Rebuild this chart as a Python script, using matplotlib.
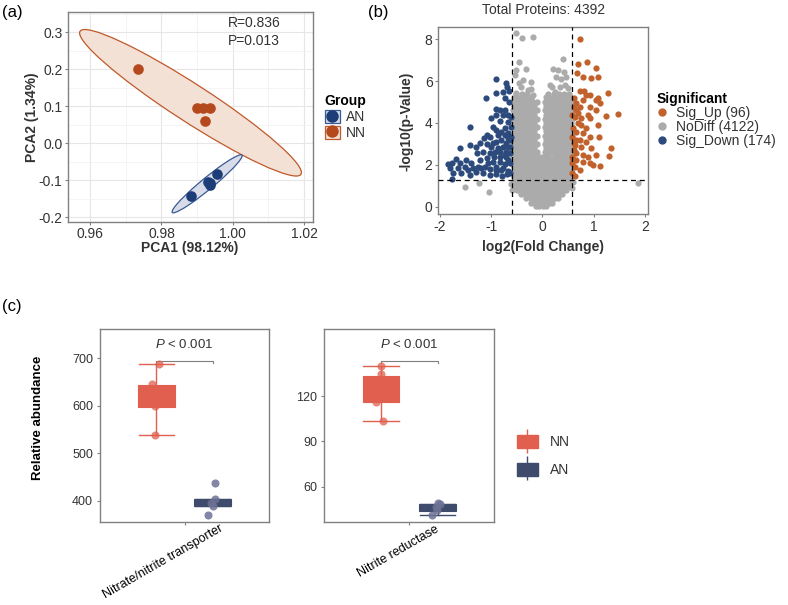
import matplotlib.pyplot as plt
import matplotlib.transforms as mtransforms
from matplotlib.patches import Ellipse, Rectangle
from matplotlib.lines import Line2D
from matplotlib.legend_handler import HandlerTuple
import numpy as np

plt.rcParams['font.family'] = ['Liberation Sans', 'DejaVu Sans']
plt.rcParams['mathtext.fontset'] = 'custom'
plt.rcParams['mathtext.it'] = 'Liberation Sans:italic'
plt.rcParams['mathtext.rm'] = 'Liberation Sans'
plt.rcParams['axes.unicode_minus'] = False

# ---------------- (a) PCA ----------------
nn_pc1 = [0.9734, 0.9899, 0.9917, 0.9936, 0.9921]
nn_pc2 = [0.201, 0.095, 0.097, 0.095, 0.061]
an_pc1 = [0.9884, 0.9935, 0.9930, 0.9936, 0.9955]
an_pc2 = [-0.1415, -0.112, -0.104, -0.106, -0.083]
F_95_2_4 = 6.944  # qf(0.95, 2, 4) as used by stat_ellipse for n = 5
pca_stats = ["R=0.836", "P=0.013"]

# ---------------- (b) volcano ----------------
up_x = [0.732, 0.699, 0.875, 1.057, 0.686, 0.797, 0.959, 1.089, 0.745, 0.81,
        0.862, 0.615, 0.927, 1.044, 1.285, 1.089, 1.122, 0.797, 0.667, 0.732,
        0.927, 1.057, 0.894, 0.927, 1.252, 1.48, 0.699, 0.634, 0.764, 0.589,
        0.699, 0.764, 0.862, 1.089, 0.602, 0.667, 0.797, 0.927, 1.109, 0.589,
        0.732, 0.862, 0.634, 0.764, 0.959, 1.35, 0.667, 0.797, 0.894, 1.057,
        1.30, 0.589, 0.667, 0.797, 0.927, 0.992, 1.122, 0.589, 0.634, 0.732,
        0.589, 0.615, 0.654, 0.667, 0.615, 0.62, 0.6, 0.64]
up_y = [8.0, 6.82, 6.93, 6.61, 6.41, 6.22, 6.15, 6.18, 5.55, 5.55,
        5.34, 5.18, 5.34, 5.10, 5.45, 5.18, 4.94, 5.10, 4.94, 4.78,
        4.78, 4.62, 4.38, 4.22, 4.33, 4.43, 4.46, 4.30, 4.22, 4.38,
        3.98, 3.90, 3.75, 3.90, 3.75, 3.59, 3.51, 3.35, 3.35, 3.35,
        3.19, 3.11, 2.95, 2.87, 2.79, 2.82, 2.55, 2.47, 2.39, 2.47,
        2.42, 2.39, 2.23, 2.15, 2.07, 1.99, 1.96, 2.07, 1.91, 1.75,
        1.59, 4.78, 4.62, 3.19, 2.71, 3.05, 2.25, 1.45]
down_x = [-0.907, -0.699, -0.686, -0.654, -0.764, -0.894, -1.102, -0.732, -0.654, -0.907,
          -0.816, -0.732, -0.764, -0.667, -0.907, -0.992, -0.829, -0.667, -1.415, -0.959,
          -0.894, -0.732, -1.089, -1.024, -0.797, -0.667, -1.597, -1.415, -1.285, -1.141,
          -1.22, -1.089, -0.992, -0.894, -0.797, -0.699, -1.27, -1.154, -1.024, -0.946,
          -0.829, -0.699, -1.675, -1.61, -1.48, -1.382, -1.22, -1.089, -0.959, -0.829,
          -0.732, -0.667, -1.837, -1.759, -1.74, -1.642, -1.512, -1.35, -1.252, -1.122,
          -1.024, -0.894, -0.764, -0.667, -1.759, -1.415, -1.154, -1.024, -0.894, -0.784,
          -0.686, -0.621, -0.621, -0.621, -0.621, -0.621, -0.602, -0.602, -0.602, -0.764,
          -0.862, -0.732, -0.829, -0.927, -1.057, -1.187, -1.297, -1.447, -1.577, -1.805,
          -0.732, -0.862, -0.959, -0.667, -0.667, -0.699, -0.894, -0.797]
down_y = [6.12, 5.93, 5.71, 5.55, 5.50, 5.45, 5.18, 5.18, 5.02, 4.65,
          4.62, 4.62, 4.38, 4.38, 4.38, 4.22, 4.11, 4.06, 3.79, 3.82,
          3.67, 3.75, 3.43, 3.31, 3.59, 3.51, 2.79, 2.95, 2.87, 3.27,
          3.06, 3.0, 2.87, 3.11, 3.19, 3.03, 2.55, 2.63, 2.55, 2.39,
          2.63, 2.63, 2.26, 2.07, 2.23, 2.07, 2.23, 2.31, 2.15, 2.15,
          2.04, 2.23, 2.04, 2.07, 1.59, 1.83, 1.91, 1.83, 1.91, 1.91,
          1.80, 1.75, 1.83, 1.72, 1.32, 1.51, 1.59, 1.51, 1.56, 1.48,
          1.56, 1.63, 2.87, 2.55, 2.07, 3.19, 4.30, 3.82, 3.35, 2.87,
          2.79, 2.47, 2.39, 2.63, 2.07, 1.83, 1.67, 1.75, 1.59, 1.83,
          3.43, 3.43, 3.03, 3.27, 2.87, 2.39, 1.91, 1.75]

# sparse grey (not significant) points outside the dense cloud
nodiff_x = [-0.504, -0.387, -0.179, -0.452, -0.517, -0.309, -0.537, -0.374, -0.211, -0.407,
            -0.276, -0.504, -0.179, 0.407, 0.211, 0.309, 0.42, 0.276, 0.374, 0.472,
            0.146, 0.341, 0.504, 0.244, 0.081, -1.506, -1.232, -1.05, 1.87, -0.62,
            -0.6, 0.6, 0.58, -0.45, -0.22, 0.18, 0.45]
nodiff_y = [8.29, 8.08, 8.13, 6.93, 6.53, 6.57, 6.29, 6.06, 5.98, 5.71,
            5.58, 5.42, 5.34, 7.04, 6.57, 6.53, 6.45, 6.18, 6.09, 6.18,
            5.82, 5.74, 5.66, 5.50, 5.26, 0.92, 1.12, 0.69, 1.12, 1.1,
            0.8, 1.2, 0.9, 5.9, 5.6, 5.7, 5.8]
# dense grey cloud, read row by row (y, x positions)
cloud_full_a = [-0.57, -0.5, -0.42, -0.34, -0.26, -0.18, -0.1, -0.02, 0.06, 0.14,
                0.22, 0.3, 0.38, 0.46, 0.53, 0.57]
cloud_full_b = [-0.56, -0.48, -0.4, -0.32, -0.24, -0.16, -0.08, 0.0, 0.08, 0.16,
                0.24, 0.32, 0.4, 0.48, 0.56]
cloud_split_a = [-0.57, -0.5, -0.42, -0.34, -0.26, -0.18, -0.1, 0.06, 0.14, 0.22,
                 0.3, 0.38, 0.46, 0.53, 0.57]
cloud_split_b = [-0.56, -0.48, -0.4, -0.32, -0.24, -0.16, 0.08, 0.16, 0.24, 0.32,
                 0.4, 0.48, 0.56]
cloud_rows = [
    (0.02, [-0.13, -0.06, 0.01, 0.08]),
    (0.2, [-0.22, -0.15, -0.08, -0.01, 0.06, 0.13, 0.19]),
    (0.4, [-0.31, -0.23, -0.15, -0.07, 0.01, 0.09, 0.17, 0.25, 0.3]),
    (0.6, [-0.41, -0.33, -0.25, -0.17, -0.09, -0.01, 0.07, 0.15, 0.23, 0.31, 0.38]),
    (0.8, [-0.49, -0.41, -0.33, -0.25, -0.17, -0.09, -0.01, 0.07, 0.15, 0.23, 0.31, 0.39, 0.46]),
    (1.0, [-0.54, -0.46, -0.38, -0.3, -0.22, -0.14, -0.06, 0.02, 0.1, 0.18, 0.26, 0.34, 0.42, 0.5, 0.55]),
    (1.2, cloud_full_a), (1.4, cloud_full_b), (1.6, cloud_full_a), (1.8, cloud_full_b),
    (2.0, cloud_full_a), (2.2, cloud_full_b), (2.4, cloud_full_a),
    (2.6, cloud_split_a), (2.8, cloud_split_b), (3.0, cloud_split_a), (3.2, cloud_split_b),
    (3.4, cloud_split_a), (3.6, cloud_split_b), (3.8, cloud_split_a), (4.0, cloud_split_b),
    (4.2, cloud_split_a), (4.4, cloud_split_b), (4.6, cloud_split_a), (4.8, cloud_split_b),
    (5.0, cloud_split_a),
    (5.2, [-0.55, -0.47, -0.39, -0.31, -0.23, 0.1, 0.18, 0.26, 0.34, 0.42, 0.5, 0.56]),
    (5.4, [-0.52, -0.4, -0.3, 0.12, 0.22, 0.32, 0.42, 0.52]),
]
volcano_labels = ["Sig_Up (96)", "NoDiff (4122)", "Sig_Down (174)"]
fc_cut = 0.585     # log2(1.5)
p_cut = 1.301      # -log10(0.05)

# ---------------- (c) boxplots ----------------
genes = ["Nitrate/nitrite transporter", "Nitrite reductase"]
nn_vals = [[687, 645, 600, 605, 538], [140, 134.6, 127, 115.8, 103.6]]
an_vals = [[437, 404, 396, 389.5, 370], [49.3, 48.3, 46.5, 44.6, 41.3]]
nn_jit = [[0.82, 0.77, 0.79, 0.82, 0.79], [0.80, 0.80, 0.79, 0.765, 0.816]]
an_jit = [[1.217, 1.217, 1.19, 1.2, 1.167], [1.205, 1.22, 1.19, 1.193, 1.158]]
# q1, median, q3, lower whisker, upper whisker
nn_box = [[598, 608, 643, 538, 687], [116.2, 126, 133.4, 103.6, 140]]
an_box = [[390, 397, 404, 390, 404], [43.9, 46.5, 48.5, 41.3, 48.5]]
pvals = ["$P$ < 0.001", "$P$ < 0.001"]

C_NN_A, C_AN_A = '#B5491E', '#1C3D78'
C_UP, C_NO, C_DOWN = '#C1622C', '#ABABAB', '#2C4A7C'
C_NN, C_AN = '#E05F4E', '#3F4B6D'
SPINE = '#808080'
TXT = '#333333'

fig = plt.figure(figsize=(7.88, 6.05), dpi=100)


def conf_ellipse(ax, xs, ys, edge, face):
    xs, ys = np.array(xs), np.array(ys)
    vals, vecs = np.linalg.eigh(np.cov(xs, ys))
    r = np.sqrt(2 * F_95_2_4)
    ang = np.degrees(np.arctan2(vecs[1, 1], vecs[0, 1]))
    ax.add_patch(Ellipse((xs.mean(), ys.mean()), 2 * r * np.sqrt(vals[1]),
                         2 * r * np.sqrt(vals[0]), angle=ang, facecolor=face,
                         edgecolor=edge, lw=0.9, zorder=2))


def style_axes(ax, size):
    for s in ax.spines.values():
        s.set_color(SPINE)
        s.set_linewidth(1.0)
    ax.tick_params(colors=SPINE, labelcolor=TXT, labelsize=size, length=2.5, width=0.8,
                   pad=1.5)


# (a)
ax1 = fig.add_axes([0.0863, 0.633, 0.311, 0.347])
conf_ellipse(ax1, nn_pc1, nn_pc2, '#C0582A', '#F3E1D6')
conf_ellipse(ax1, an_pc1, an_pc2, '#3A5A95', '#D8DCE8')
ax1.scatter(nn_pc1, nn_pc2, s=44, color=C_NN_A, zorder=3)
ax1.scatter(an_pc1, an_pc2, s=44, color=C_AN_A, zorder=3)
ax1.set_xlim(0.9538, 1.0225)
ax1.set_ylim(-0.2127, 0.355)
ax1.set_xticks([0.96, 0.98, 1.00, 1.02])
ax1.set_xticklabels(["0.96", "0.98", "1.00", "1.02"])
ax1.set_yticks([-0.2, -0.1, 0.0, 0.1, 0.2, 0.3])
ax1.set_yticklabels(["-0.2", "-0.1", "0.0", "0.1", "0.2", "0.3"])
ax1.set_xticks([0.97, 0.99, 1.01], minor=True)
ax1.set_yticks([-0.15, -0.05, 0.05, 0.15, 0.25, 0.35], minor=True)
ax1.grid(True, which='major', color='#E6E6E6', lw=0.8, zorder=0)
ax1.grid(True, which='minor', color='#F2F2F2', lw=0.6, zorder=0)
ax1.set_axisbelow(True)
style_axes(ax1, 10)
ax1.tick_params(axis='x', pad=1.0)
ax1.tick_params(which='minor', length=0)
ax1.text(0.653, 0.949, pca_stats[0], transform=ax1.transAxes, fontsize=10,
         color=TXT, va='center')
ax1.text(0.653, 0.863, pca_stats[1], transform=ax1.transAxes, fontsize=10,
         color=TXT, va='center')
fig.text(0.241, 0.590, "PCA1 (98.12%)", ha='center', va='center', fontsize=10,
         fontweight='bold', color=TXT)
fig.text(0.041, 0.807, "PCA2 (1.34%)", ha='center', va='center', fontsize=10,
         fontweight='bold', color=TXT, rotation=90)
h_an = (Rectangle((0, 0), 1, 1, facecolor='#D8DCE8', edgecolor='#3A5A95', lw=0.9),
        Line2D([0], [0], marker='o', color=C_AN_A, ls='', markersize=8))
h_nn = (Rectangle((0, 0), 1, 1, facecolor='#F3E1D6', edgecolor='#C0582A', lw=0.9),
        Line2D([0], [0], marker='o', color=C_NN_A, ls='', markersize=8))
fig.legend([h_an, h_nn], ["AN", "NN"], handler_map={tuple: HandlerTuple(ndivide=1)},
           loc='upper left', bbox_to_anchor=(0.405, 0.853), frameon=False,
           title="Group", title_fontproperties={'weight': 'bold', 'size': 10},
           fontsize=10, handlelength=1.1, handleheight=1.1, handletextpad=0.4,
           labelspacing=0.1, alignment='left', labelcolor=TXT, borderaxespad=0)

# (b)
ax2 = fig.add_axes([0.556, 0.6458, 0.2665, 0.3101])
cx, cy = [], []
for yv, xs in cloud_rows:
    cx += list(xs)
    cy += [yv] * len(xs)
ax2.scatter(cx, cy, s=21, color=C_NO, lw=0, zorder=2)
ax2.scatter(nodiff_x, nodiff_y, s=20, color=C_NO, lw=0, zorder=2)
ax2.scatter(down_x, down_y, s=20, color=C_DOWN, lw=0, zorder=3)
ax2.scatter(up_x, up_y, s=20, color=C_UP, lw=0, zorder=3)
for xv in (-fc_cut, fc_cut):
    ax2.axvline(xv, color='black', ls=(0, (4, 3)), lw=0.9, zorder=4)
ax2.axhline(p_cut, color='black', ls=(0, (4, 3)), lw=0.9, zorder=4)
ax2.set_xlim(-2.033, 2.065)
ax2.set_ylim(-0.36, 8.6)
ax2.set_xticks([-2, -1, 0, 1, 2])
ax2.set_yticks([0, 2, 4, 6, 8])
style_axes(ax2, 10)
ax2.set_title("Total Proteins: 4392", fontsize=10, color=TXT, pad=9)
fig.text(0.689, 0.592, "log2(Fold Change)", ha='center', va='center', fontsize=10,
         fontweight='bold', color=TXT)
fig.text(0.516, 0.799, "-log10(p-Value)", ha='center', va='center', fontsize=10,
         fontweight='bold', color=TXT, rotation=90)
vh = [Line2D([0], [0], marker='o', color=c, ls='', markersize=5)
      for c in (C_UP, C_NO, C_DOWN)]
fig.legend(vh, volcano_labels, loc='upper left', bbox_to_anchor=(0.826, 0.857),
           frameon=False, title="Significant",
           title_fontproperties={'weight': 'bold', 'size': 10}, fontsize=10,
           handlelength=0.8, handletextpad=0.6, labelspacing=0.0, alignment='left',
           labelcolor=TXT, borderaxespad=0)

# (c)
box_axes = [fig.add_axes([0.1269, 0.1367, 0.2145, 0.319]),
            fig.add_axes([0.4116, 0.1367, 0.2157, 0.319])]
ylims = [(355.2, 761), (36.4, 164.2)]
yticks = [[400, 500, 600, 700], [60, 90, 120]]
label_dx = [35, 26]
for i, ax in enumerate(box_axes):
    for pos, st, col in ((0.8, nn_box[i], C_NN), (1.2, an_box[i], C_AN)):
        stats = [dict(q1=st[0], med=st[1], q3=st[2], whislo=st[3], whishi=st[4])]
        ax.bxp(stats, positions=[pos], widths=0.26, capwidths=0.25, patch_artist=True,
               showfliers=False,
               boxprops=dict(facecolor=col, edgecolor=col, lw=0.8),
               whiskerprops=dict(color=col, lw=1.0), capprops=dict(color=col, lw=1.0),
               medianprops=dict(color=col, lw=0.8))
    ax.scatter(nn_jit[i], nn_vals[i], s=34, color=C_NN, alpha=0.75, lw=0, zorder=5)
    ax.scatter(an_jit[i], an_vals[i], s=34, color='#6D7194', alpha=0.85, lw=0, zorder=5)
    lo, hi = ylims[i]
    rng = hi - lo
    yb = hi - 0.165 * rng
    ax.plot([0.8, 0.8, 1.2, 1.2], [yb - 0.012 * rng, yb, yb, yb - 0.012 * rng],
            color='#7F7F7F', lw=0.8)
    ax.text(1.0, hi - 0.08 * rng, pvals[i], ha='center', va='center', fontsize=9.5,
            color=TXT)
    ax.set_xlim(0.4, 1.6)
    ax.set_ylim(lo, hi)
    ax.set_yticks(yticks[i])
    ax.set_xticks([1.0])
    ax.set_xticklabels([genes[i]], rotation=30, ha='right', va='top',
                       rotation_mode='anchor')
    style_axes(ax, 9)
    ax.tick_params(axis='y', pad=2.5)
    for t in ax.get_xticklabels():
        t.set_color('black')
        t.set_transform(t.get_transform() +
                        mtransforms.ScaledTranslation(label_dx[i] / 100, 0.05,
                                                      fig.dpi_scale_trans))

fig.text(0.048, 0.309, "Relative abundance", ha='center', va='center', fontsize=9.5,
         fontweight='bold', color='black', rotation=90)
bh = [(Line2D([0], [0], marker='|', color=c, ls='', markersize=17, mew=1.0),
       Rectangle((0, 0), 1, 1, facecolor=c, edgecolor=c)) for c in (C_NN, C_AN)]
fig.legend(bh, ["NN", "AN"], handler_map={tuple: HandlerTuple(ndivide=1)},
           loc='upper left', bbox_to_anchor=(0.649, 0.290), frameon=False,
           fontsize=10, handlelength=1.5, handleheight=1.1, handletextpad=0.9,
           labelspacing=0.95, labelcolor=TXT, borderaxespad=0)

fig.text(0.003, 0.98, "(a)", fontsize=12, va='center', ha='left')
fig.text(0.467, 0.98, "(b)", fontsize=12, va='center', ha='left')
fig.text(0.003, 0.493, "(c)", fontsize=12, va='center', ha='left')

fig.savefig("out.png", dpi=100)
